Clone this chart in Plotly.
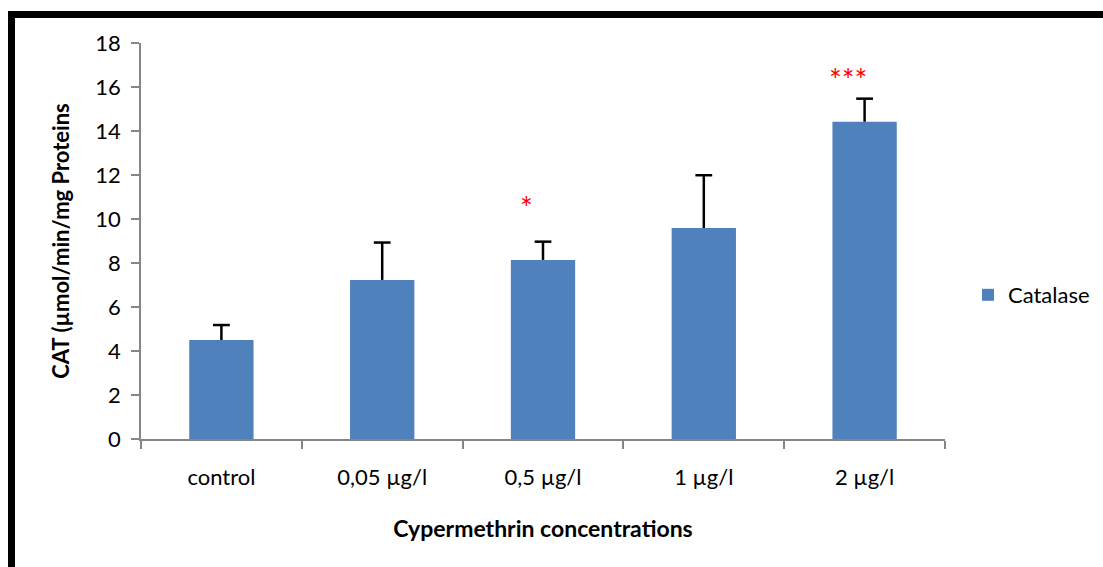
import plotly.graph_objects as go

categories = ["control", "0,05 µg/l", "0,5 µg/l", "1 µg/l", "2 µg/l"]
catalase = [4.5, 7.23, 8.14, 9.59, 14.42]
catalase_err = [0.68, 1.7, 0.83, 2.4, 1.05]
sig_labels = ["", "", "*", "", "***"]
sig_y = [None, None, 10.55, None, 16.35]

FONT = "Lato, 'Open Sans', sans-serif"
W, H = 1103, 567
L, R, T, B = 141, 158, 43, 128
pw, ph = W - L - R, H - T - B

fig = go.Figure()
fig.add_trace(go.Bar(
    x=categories, y=catalase, name="Catalase",
    marker=dict(color="#4F81BD", line=dict(color="#4F81BD", width=0)),
    width=0.4,
    error_y=dict(type="data", array=catalase_err, arrayminus=[0]*len(catalase),
                 symmetric=False, color="black", thickness=2.5, width=0),
))
# error-bar caps (top only)
fig.add_trace(go.Scatter(
    x=categories, y=[v + e for v, e in zip(catalase, catalase_err)],
    mode="markers", showlegend=False, hoverinfo="skip",
    marker=dict(symbol="line-ew-open", size=12, color="black",
                line=dict(color="black", width=2.5)),
))

annotations = []
for c, s, yv in zip(categories, sig_labels, sig_y):
    if s:
        annotations.append(dict(x=c, y=yv, xref="x", yref="y", text=s, showarrow=False,
                                xshift=-17, font=dict(color="red", size=30, family=FONT)))

def px_x(p):
    return (p - L) / pw

def px_y(p):
    return (H - B - p) / ph

shapes = [
    dict(type="line", xref="paper", yref="paper", x0=px_x(8), x1=px_x(1103),
         y0=px_y(14.5), y1=px_y(14.5), line=dict(color="black", width=7)),
    dict(type="line", xref="paper", yref="paper", x0=px_x(11.5), x1=px_x(11.5),
         y0=px_y(11), y1=px_y(567), line=dict(color="black", width=7)),
]

fig.update_layout(
    width=W, height=H,
    margin=dict(l=L, r=R, t=T, b=B, pad=0, autoexpand=False),
    plot_bgcolor="white", paper_bgcolor="white",
    font=dict(family=FONT, size=22, color="black"),
    showlegend=True,
    legend=dict(x=px_x(968), y=px_y(295), xanchor="left", yanchor="middle",
                font=dict(size=22, family=FONT), itemwidth=30),
    annotations=annotations,
    shapes=shapes,
    bargap=0.6,
)
fig.update_xaxes(
    type="category", range=[-0.5, 4.5], automargin=False,
    showline=True, linecolor="#868686", linewidth=1.5,
    ticks="outside", tickson="boundaries", ticklen=8, tickcolor="#868686", tickwidth=1.5,
    ticklabelstandoff=18,
    tickfont=dict(size=22),
    title=dict(text="<b>Cypermethrin concentrations</b>", font=dict(size=23), standoff=32),
    showgrid=False,
)
fig.update_yaxes(
    range=[0, 18], dtick=2, automargin=False,
    showline=True, linecolor="#868686", linewidth=1.5,
    ticks="outside", ticklen=8, tickcolor="#868686", tickwidth=1.5,
    ticklabelstandoff=6,
    tickfont=dict(size=22),
    title=dict(text="<b>CAT (µmol/min/mg Proteins</b>", font=dict(size=22), standoff=20),
    showgrid=False, zeroline=False,
)

fig.write_html("out.html")
